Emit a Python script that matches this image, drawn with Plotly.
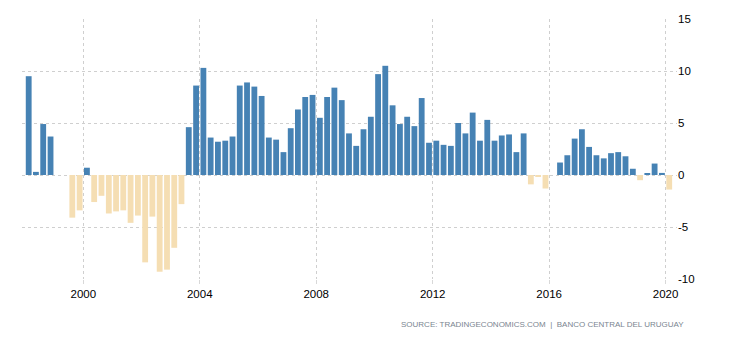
import plotly.graph_objects as go
import pandas as pd

# Uruguay GDP annual growth rate, quarterly observations (percent)
quarters = pd.period_range("1998Q1", "2020Q1", freq="Q")
growth = [
    9.5, 0.3, 4.9, 3.7,        # 1998
    0.0, 0.0, -4.1, -3.4,      # 1999
    0.7, -2.6, -2.0, -3.7,     # 2000
    -3.5, -3.4, -4.6, -3.9,    # 2001
    -8.4, -4.0, -9.3, -9.1,    # 2002
    -7.0, -2.8, 4.6, 8.6,      # 2003
    10.3, 3.6, 3.2, 3.3,       # 2004
    3.7, 8.6, 8.9, 8.5,        # 2005
    7.6, 3.6, 3.4, 2.2,        # 2006
    4.5, 6.3, 7.5, 7.7,        # 2007
    5.5, 7.5, 8.4, 7.2,        # 2008
    4.0, 2.8, 4.4, 5.6,        # 2009
    9.7, 10.5, 6.7, 4.9,       # 2010
    5.6, 4.7, 7.4, 3.1,        # 2011
    3.3, 2.9, 2.8, 5.0,        # 2012
    4.0, 6.0, 3.3, 5.3,        # 2013
    3.3, 3.8, 3.9, 2.2,        # 2014
    4.0, -0.9, -0.1, -1.3,     # 2015
    0.0, 1.2, 1.9, 3.5,        # 2016
    4.4, 2.7, 1.9, 1.6,        # 2017
    2.1, 2.2, 1.8, 0.6,        # 2018
    -0.5, 0.1, 1.1, 0.2,       # 2019
    -1.4,                      # 2020
]

year_ticks = [2000, 2004, 2008, 2012, 2016, 2020]
y_ticks = [15, 10, 5, 0, -5, -10]

# bars sit at the middle of each quarter
dates = [(q.start_time + (q.end_time - q.start_time) / 2) for q in quarters]
colors = ["#4682B4" if v >= 0 else "#F5DEB3" for v in growth]
bar_width_ms = 0.8 * 91.3 * 24 * 3600 * 1000

fig = go.Figure(
    go.Bar(
        x=dates,
        y=growth,
        marker=dict(color=colors, line=dict(width=0)),
        width=[bar_width_ms] * len(growth),
        hoverinfo="x+y",
    )
)

grid = dict(showgrid=True, gridcolor="#cfcfcf", griddash="dot", gridwidth=1)
tick_font = dict(family="Liberation Sans, Arial, sans-serif", size=11.5, color="#000000")

fig.update_layout(
    width=730,
    height=340,
    margin=dict(l=22, r=53, t=19, b=61),
    paper_bgcolor="white",
    plot_bgcolor="white",
    showlegend=False,
    xaxis=dict(
        type="date",
        range=["1997-11-23", "2020-05-23"],
        tickvals=[f"{y}-01-01" for y in year_ticks],
        ticktext=[str(y) for y in year_ticks],
        ticks="outside",
        ticklen=4,
        tickcolor="#d8d8d8",
        tickfont=tick_font,
        showline=False,
        zeroline=False,
        **grid,
    ),
    yaxis=dict(
        side="right",
        range=[-10, 15],
        tickvals=y_ticks,
        ticktext=[str(v) for v in y_ticks],
        tickfont=tick_font,
        ticks="",
        showline=False,
        zeroline=False,
        **grid,
    ),
    annotations=[
        dict(
            text="SOURCE: TRADINGECONOMICS.COM  |  BANCO CENTRAL DEL URUGUAY",
            xref="paper",
            yref="paper",
            x=(686 - 22) / (730 - 22 - 53),
            y=-(325 - 279.3) / (279.3 - 19),
            xanchor="right",
            yanchor="middle",
            showarrow=False,
            font=dict(family="Liberation Sans, Arial, sans-serif", size=8, color="#7a8590"),
        )
    ],
)

fig.write_html("out.html")
